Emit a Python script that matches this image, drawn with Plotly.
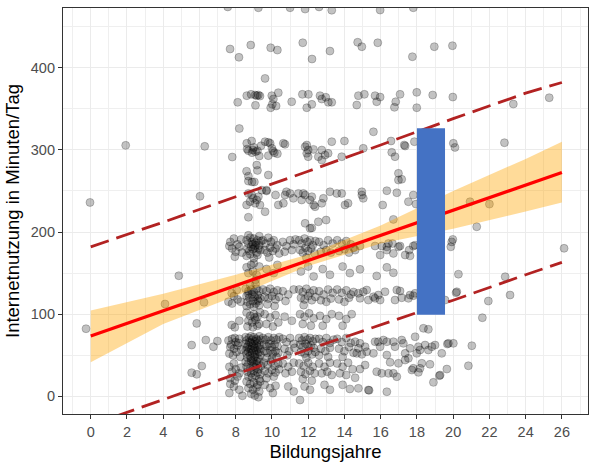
import plotly.graph_objects as go

# ---------------- data ----------------
# jittered observations: (Bildungsjahre, Internetnutzung in Minuten/Tag), grouped by column
col_0_7 = [(-0.26, 82.3), (-0.04, 236), (1.93, 305.5), (4.86, 146.8), (4.1, 112.4), (5.85, 88.8),
           (6.25, 114.4), (5.57, 62.4), (6.35, 68.5), (6.77, 60.4), (6.99, 67.3), (5.57, 28.8),
           (5.85, 26.8), (6.13, 36.9), (6.03, 243.5), (6.29, 304.3)]

col_8 = [(7.56, 474), (7.69, 422.8), (8.18, 412.7), (8.11, 357.9), (8.2, 326), (7.81, 291.3),
         (7.7, 188), (7.9, 192), (8.1, 185), (8.3, 191), (7.8, 180), (8.0, 176), (8.2, 182),
         (7.95, 170), (8.35, 175), (7.65, 183),
         (7.78, 125.4), (8.06, 129.4), (7.9, 122), (8.1, 118), (7.8, 113), (7.6, 115.2), (8.28, 115.2),
         (7.78, 86.8), (7.95, 84), (8.2, 92),
         (7.6, 68), (7.8, 70), (8.0, 66), (8.2, 70), (7.7, 60), (7.9, 58), (8.1, 62), (8.3, 57),
         (7.65, 52), (7.85, 50), (8.05, 54), (8.25, 48), (7.75, 63), (8.15, 65), (7.95, 71),
         (7.65, 36), (7.8, 30), (8.0, 33), (8.2, 28), (7.9, 40), (8.1, 24), (7.7, 22), (8.3, 35),
         (7.95, 19), (7.9, 12), (8.2, 8), (7.7, 15), (7.65, 4), (8.37, 0.7)]

col_9 = [(9.25, 473), (8.83, 427.6),
         (8.61, 366), (8.85, 367.6), (9.07, 366.8), (9.16, 366), (9.25, 366.8), (9.34, 365.5), (9.09, 354.2),
         (8.61, 308), (8.88, 310.8), (8.63, 301), (8.7, 299), (8.9, 296.6), (9.1, 297.8), (9.2, 299),
         (9.3, 292.5), (9.4, 305), (9.0, 303), (8.95, 300),
         (8.6, 274), (8.7, 262), (8.9, 261), (9.03, 261), (9.16, 281.5), (9.2, 275), (8.7, 268),
         (8.7, 247), (8.88, 245), (8.97, 241), (8.79, 237), (9.07, 235), (9.16, 239), (9.25, 243),
         (8.6, 233), (9.34, 233), (9.44, 251), (8.7, 218), (9.62, 224.7),
         (8.6, 190), (8.7, 186), (8.8, 193), (8.9, 188), (9.0, 192), (9.1, 187), (9.2, 190), (9.3, 184),
         (9.4, 189), (8.65, 180), (8.75, 177), (8.85, 182), (8.95, 179), (9.05, 181), (9.15, 175),
         (9.25, 180), (9.35, 178), (8.6, 171), (8.8, 173), (9.0, 168), (9.2, 172), (9.1, 184),
         (8.95, 185), (8.7, 196), (9.3, 195),
         (8.6, 157), (8.85, 160), (9.0, 162), (8.7, 150), (8.95, 152), (9.15, 148), (9.3, 158), (9.1, 142),
         (8.55, 131), (8.7, 128), (8.85, 130), (9.0, 127), (9.15, 131), (9.3, 128), (8.6, 122),
         (8.75, 120), (8.9, 124), (9.05, 121), (9.2, 123), (9.35, 119), (8.65, 115), (8.8, 112),
         (8.95, 116), (9.1, 113), (9.25, 116), (8.6, 110), (9.0, 109), (9.3, 111), (8.8, 135),
         (9.1, 137), (8.7, 125), (9.2, 118),
         (8.6, 102), (8.8, 98), (9.0, 100), (9.2, 97), (9.35, 102), (8.7, 92), (8.9, 90), (9.1, 93),
         (9.3, 88), (8.65, 85), (8.95, 84), (9.2, 86), (9.05, 96),
         (8.55, 72), (8.72, 71), (8.84, 73), (9.0, 72), (9.14, 70), (9.3, 73),
         (8.6, 68), (8.76, 66), (8.9, 69), (9.06, 67), (9.2, 68), (9.36, 69),
         (8.56, 64), (8.7, 62), (8.86, 65), (9.02, 63), (9.16, 64), (9.3, 62),
         (8.62, 60), (8.75, 58), (8.92, 61), (9.05, 59), (9.22, 60), (9.35, 58),
         (8.55, 56), (8.7, 54), (8.85, 57), (9.0, 55), (9.15, 56), (9.3, 54),
         (8.6, 52), (8.78, 50), (8.9, 53), (9.07, 51), (9.2, 52), (9.36, 50),
         (8.65, 47), (8.84, 46), (9.04, 48), (9.25, 46), (8.95, 44), (9.15, 43),
         (8.55, 42), (8.7, 40), (8.85, 43), (9.0, 41), (9.15, 39), (9.3, 42), (8.6, 36), (8.8, 34),
         (8.95, 37), (9.1, 35), (9.25, 33), (9.4, 37), (8.65, 30), (8.85, 28), (9.0, 31), (9.2, 29),
         (9.35, 27), (8.7, 24), (8.9, 23), (9.1, 25), (9.3, 21),
         (8.6, 18), (8.8, 15), (9.0, 17), (9.2, 14), (9.35, 18), (8.7, 10), (8.95, 8), (9.15, 11),
         (9.3, 6), (8.85, 3), (9.05, 1), (9.25, -1)]

col_10 = [(9.93, 424.3), (10.3, 421.5), (9.62, 387), (9.93, 351.3), (9.99, 366), (10.08, 361.9),
          (10.23, 353.4), (10.35, 369.6), (10.02, 355.4),
          (9.62, 310), (9.8, 309.2), (9.9, 308), (9.8, 293), (10.0, 302), (10.06, 298.6), (10.13, 296.5),
          (10.3, 295.3), (9.7, 250), (9.8, 269.4), (9.7, 251), (10.2, 245), (10.35, 233),
          (9.5, 190), (9.65, 186), (9.8, 193), (9.95, 188), (10.1, 190), (10.3, 184), (9.6, 178),
          (9.75, 175), (9.9, 181), (10.05, 177), (10.2, 180), (10.4, 174), (9.85, 169),
          (9.7, 155), (10.1, 150), (10.3, 160),
          (9.5, 130), (9.7, 128), (9.9, 131), (10.1, 127), (10.3, 129), (9.6, 121), (9.8, 119),
          (10.0, 122), (10.2, 118), (10.4, 121), (9.75, 112), (10.15, 110),
          (9.6, 100), (9.9, 96), (10.2, 99), (9.7, 88), (10.05, 85), (10.35, 90),
          (9.5, 71), (9.65, 69), (9.8, 72), (9.95, 68), (10.1, 71), (10.25, 69), (10.4, 72),
          (9.55, 63), (9.7, 61), (9.85, 64), (10.0, 60), (10.15, 63), (10.3, 61), (9.6, 55),
          (9.75, 53), (9.9, 56), (10.05, 52), (10.2, 55), (10.35, 53), (9.7, 47), (10.0, 46), (10.25, 48),
          (9.55, 41), (9.75, 38), (9.95, 42), (10.15, 37), (10.35, 40), (9.6, 31), (9.8, 28),
          (10.0, 32), (10.2, 29), (10.4, 33), (9.7, 22), (10.1, 24),
          (9.6, 14), (9.9, 10), (10.2, 13), (10.05, 4)]

col_11 = [(11.0, 473), (11.09, 358.6), (10.63, 308), (10.72, 306.8), (10.63, 235), (10.8, 249),
          (10.72, 245), (11.18, 241), (11.0, 247),
          (10.6, 188), (10.8, 183), (11.0, 190), (11.2, 185), (10.7, 176), (11.1, 178), (11.3, 191),
          (10.6, 128), (10.9, 124), (11.2, 130), (10.75, 116), (10.7, 97), (11.1, 92),
          (10.6, 70), (10.8, 66), (11.0, 71), (11.2, 64), (10.7, 58), (10.95, 55), (11.25, 59), (10.85, 50),
          (10.6, 40), (10.9, 36), (11.2, 41), (10.75, 28), (11.1, 30), (10.9, 12), (11.2, 6)]

col_12 = [(11.83, 471.4), (11.7, 430.4), (12.21, 410.6), (11.68, 367.6), (12.01, 367.6), (11.92, 351.3),
          (12.2, 355.4), (11.92, 305.9), (11.83, 303.8), (11.92, 295.8), (12.0, 299.8), (12.29, 300.6),
          (12.0, 291.7), (11.46, 247), (11.73, 247), (11.83, 245), (11.64, 239), (12.2, 243),
          (12.3, 233), (12.38, 230.8), (12.1, 239), (11.83, 210.6), (12.1, 204.5), (12.2, 205),
          (11.5, 190), (11.65, 186), (11.8, 192), (11.95, 188), (12.1, 190), (12.25, 184), (12.4, 189),
          (11.55, 178), (11.7, 175), (11.85, 181), (12.0, 177), (12.15, 180), (12.35, 174), (11.9, 169),
          (11.6, 152), (12.0, 158), (12.3, 146),
          (11.5, 130), (11.7, 127), (11.9, 131), (12.1, 126), (12.3, 129), (11.6, 120), (11.8, 118),
          (12.0, 122), (12.2, 117), (12.4, 121), (11.75, 111),
          (11.55, 100), (11.8, 97), (12.05, 101), (12.3, 95), (11.7, 88), (12.15, 86),
          (11.5, 71), (11.65, 68), (11.8, 72), (11.95, 69), (12.1, 71), (12.25, 67), (12.4, 70),
          (11.55, 63), (11.7, 60), (11.85, 64), (12.0, 61), (12.15, 62), (12.3, 59), (11.6, 54),
          (11.8, 52), (12.0, 55), (12.2, 51), (12.4, 54), (11.9, 47),
          (11.5, 40), (11.75, 37), (12.0, 41), (12.25, 36), (11.6, 30), (11.85, 27), (12.1, 31),
          (12.35, 28), (11.7, 21), (12.2, 19), (11.8, 12), (12.1, 8), (11.55, -4.5)]

col_13 = [(12.6, 474), (13.3, 470), (13.2, 420.3), (12.65, 366), (12.75, 361.9), (12.97, 364),
          (13.11, 357.9), (13.3, 357.9), (13.3, 310), (12.75, 299.8), (12.93, 293.7), (13.1, 295.8),
          (12.56, 291.7), (12.75, 287.6), (12.75, 235), (12.84, 241), (13.2, 249), (12.56, 212.5),
          (12.99, 214.6),
          (12.6, 188), (12.85, 184), (13.1, 190), (13.35, 186), (12.7, 176), (13.0, 178), (13.25, 175),
          (12.8, 155), (13.2, 148),
          (12.6, 128), (12.85, 124), (13.1, 130), (13.35, 126), (12.7, 117), (13.0, 115), (13.25, 119),
          (12.65, 98), (13.0, 94), (13.3, 100), (12.8, 86),
          (12.6, 70), (12.8, 66), (13.0, 71), (13.2, 65), (13.4, 69), (12.7, 58), (12.95, 55),
          (13.2, 59), (12.6, 50), (13.1, 48),
          (12.6, 40), (12.9, 36), (13.2, 41), (12.75, 28), (13.05, 30), (13.3, 26), (12.9, 14), (13.2, 8)]

col_14 = [(14.0, 310.8), (13.85, 291.7), (13.58, 247), (13.85, 247), (14.03, 233), (14.2, 235),
          (13.6, 190), (13.85, 186), (14.1, 189), (14.35, 185), (13.7, 177), (14.0, 179), (14.25, 175),
          (14.5, 181), (13.9, 158), (14.3, 150),
          (13.6, 130), (13.85, 126), (14.1, 129), (14.35, 124), (13.7, 118), (14.0, 115), (14.25, 120),
          (14.5, 127), (13.7, 98), (14.1, 94), (14.4, 100), (13.9, 86),
          (13.6, 70), (13.85, 66), (14.1, 71), (14.35, 65), (13.7, 58), (14.0, 55), (14.25, 60),
          (14.5, 53), (13.9, 48),
          (13.6, 40), (13.9, 36), (14.2, 41), (14.45, 33), (13.75, 28), (14.1, 26), (13.9, 14), (14.3, 9)]

col_15_26 = [(14.73, 431), (14.96, 425.6), (15.84, 430.4), (15.97, 470.2), (17.8, 473), (17.75, 413.4),
             (18.96, 425.6), (19.96, 426.8),
             (14.77, 366), (15.1, 367.6), (15.69, 366), (15.97, 364.3), (15.78, 358.6), (14.68, 354.6),
             (17.07, 367.6), (16.83, 358.6), (16.76, 351.8), (17.99, 370), (17.99, 351.3), (18.87, 366.8),
             (19.98, 364.3), (23.32, 355.8), (25.3, 363.5),
             (15.6, 322), (16.57, 310.8), (17.3, 305.9), (17.86, 310), (20.01, 308), (20.1, 303),
             (15.04, 301.9), (16.61, 297), (16.79, 291.7), (17.35, 304.7), (22.83, 308.7),
             (16.98, 271.4), (16.98, 263.3), (17.16, 264.2),
             (14.96, 249), (15.04, 241), (14.96, 245), (16.34, 250.3), (16.89, 247.8), (17.53, 236.9),
             (17.8, 245), (17.95, 234), (20.93, 236.9), (22.0, 234), (21.3, 206.4), (16.7, 215.4),
             (16.11, 232.9), (19.98, 191),
             (14.59, 178), (14.86, 183), (15.69, 183), (16.06, 183), (16.34, 182), (16.34, 178),
             (15.97, 172), (16.43, 186), (16.65, 186), (16.7, 174), (16.98, 182), (17.07, 183),
             (17.35, 172), (17.57, 178), (17.62, 171), (17.8, 183), (17.9, 184), (19.92, 188),
             (19.87, 182), (26.12, 180.2),
             (14.86, 154.6), (16.34, 157), (16.7, 150.4), (15.78, 146.6), (20.29, 148.7), (22.87, 145.6),
             (14.77, 125.4), (14.86, 119.3), (15.04, 127.3), (15.23, 129.4), (15.32, 117.2), (15.6, 121.2),
             (15.69, 119.3), (15.87, 123.3), (15.97, 117.2), (16.24, 127.3), (16.79, 117.2), (16.89, 129.4),
             (17.07, 128.2), (17.16, 120), (17.53, 119.3), (17.62, 123.3), (17.8, 122.5), (17.9, 125.4),
             (19.55, 117.2), (20.2, 127.3), (21.94, 116), (20.16, 126.1), (23.14, 123.3),
             (21.61, 95.7), (18.36, 82.8), (18.63, 81.6),
             (14.59, 66.5), (14.86, 64.5), (14.77, 58.4), (15.14, 60.4), (15.23, 54.3), (15.6, 52.3),
             (15.69, 66.5), (15.87, 66.5), (15.97, 60.4), (16.15, 68.5), (16.34, 66.5), (16.7, 66.5),
             (16.79, 60.4), (17.16, 68.5), (17.25, 64.5), (17.35, 52.3), (17.62, 58.4), (17.9, 72.5),
             (17.99, 52.3), (18.08, 60.4), (18.17, 56.4), (18.45, 62.4), (18.63, 56.4), (18.82, 60.4),
             (19.0, 62.4), (19.37, 52.3), (19.74, 64.5), (20.01, 64.5), (21.03, 61.6), (19.68, 63.7),
             (14.68, 52.3), (14.96, 51.1), (16.34, 50.3), (16.52, 41.4), (16.98, 40.2), (17.35, 44.2),
             (17.53, 46.3), (17.8, 34.1), (18.27, 40.2), (18.72, 39), (20.84, 37.2), (15.14, 38.1),
             (14.86, 33.2), (15.78, 30), (16.06, 28), (16.43, 28), (16.7, 28), (16.89, 23.9),
             (17.72, 32), (18.17, 34.1), (18.08, 29.2), (19.28, 25.9), (19.65, 33.2), (18.91, 17),
             (14.59, 22.6), (14.77, 9.7), (15.32, 7.7), (16.34, 5.6), (15.36, 7.3), (19.24, 25.1)]

# regression line, confidence band and prediction interval
fit_x = [0, 26]
fit_y = [73.5, 272.5]
ci_x = [0, 4, 8, 12, 16, 20, 24, 26]
ci_low = [41.5, 88, 122, 158.5, 186, 204, 225, 236]
ci_high = [104.5, 125, 148, 172.5, 208, 250, 289, 310]
pi_x = [0, 4, 8, 12, 16, 20, 24, 26]
pi_low = [-35, -4, 27, 57, 87, 117, 148, 163]
pi_high = [182, 212, 243, 274, 306, 338, 369, 382]

# highlighted interval (blue bar)
bar_x = [18.0, 19.55]
bar_y = [99.3, 326.2]

x_ticks = list(range(0, 27, 2))
y_ticks = [0, 100, 200, 300, 400]

# ---------------- figure ----------------
points = col_0_7 + col_8 + col_9 + col_10 + col_11 + col_12 + col_13 + col_14 + col_15_26
px = [p[0] for p in points]
py = [p[1] for p in points]

fig = go.Figure()
fig.add_trace(go.Scatter(
    x=px, y=py, mode="markers",
    marker=dict(size=8, color="rgba(0,0,0,0.24)",
                line=dict(color="rgba(0,0,0,0.28)", width=0.8)),
    hoverinfo="skip", showlegend=False))

fig.add_trace(go.Scatter(x=ci_x, y=ci_low, mode="lines", line=dict(width=0),
                         hoverinfo="skip", showlegend=False))
fig.add_trace(go.Scatter(x=ci_x, y=ci_high, mode="lines", line=dict(width=0),
                         fill="tonexty", fillcolor="rgba(255,165,0,0.4)",
                         hoverinfo="skip", showlegend=False))
fig.add_trace(go.Scatter(x=fit_x, y=fit_y, mode="lines",
                         line=dict(color="#FF0000", width=3.3), showlegend=False))
for arr in (pi_high, pi_low):
    fig.add_trace(go.Scatter(x=pi_x, y=arr, mode="lines",
                             line=dict(color="#B22222", width=2.8, dash="19px,8px"),
                             showlegend=False))

fig.add_shape(type="rect", xref="x", yref="y",
              x0=bar_x[0], x1=bar_x[1], y0=bar_y[0], y1=bar_y[1],
              fillcolor="#4472C4", line=dict(width=0), layer="above")

axis_common = dict(
    showgrid=True, gridcolor="#EBEBEB", gridwidth=1.2,
    zeroline=False, showline=True, linecolor="#333333", linewidth=1.2, mirror=True,
    ticks="outside", ticklen=4, tickcolor="#333333", tickwidth=1,
    tickfont=dict(family="Liberation Sans, Arial, sans-serif", size=14.5, color="#4D4D4D"),
)

fig.update_layout(
    width=589, height=465,
    margin=dict(l=63, r=1, t=8, b=51),
    paper_bgcolor="white", plot_bgcolor="white",
    font=dict(family="Liberation Sans, Arial, sans-serif"),
    xaxis=dict(range=[-1.53, 27.44], tickvals=x_ticks,
               minor=dict(dtick=1, tick0=0, showgrid=True, gridcolor="#EFEFEF", gridwidth=0.7, ticks=""),
               title=dict(text="Bildungsjahre", font=dict(size=18.5, color="black"), standoff=6),
               **axis_common),
    yaxis=dict(range=[-21.5, 472.7], tickvals=y_ticks,
               minor=dict(dtick=50, tick0=0, showgrid=True, gridcolor="#EFEFEF", gridwidth=0.7, ticks=""),
               title=dict(text="Internetnutzung in Minuten/Tag", font=dict(size=18.5, color="black"), standoff=6),
               **axis_common),
)

fig.write_html("out.html")
